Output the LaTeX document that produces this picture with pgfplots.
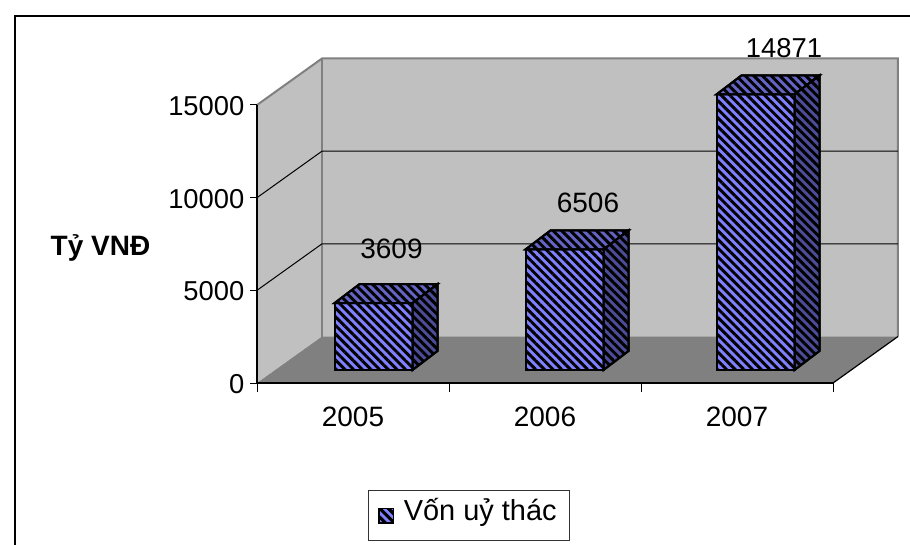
\documentclass[border=0pt]{standalone}
\usepackage{fontspec}
\setmainfont{Liberation Sans}
\usepackage{pgfplots}
\pgfplotsset{compat=1.18}
\usepackage{pgfplotstable}
\usetikzlibrary{patterns.meta}

\definecolor{wallgrey}{HTML}{C0C0C0}
\definecolor{floorgrey}{HTML}{808080}
\definecolor{frontblue}{HTML}{8080FF}
\definecolor{topblue}{HTML}{6464C4}
\definecolor{sideblue}{HTML}{4C4C98}

\tikzset{
  stripes/.style={postaction={pattern={Lines[angle=-45,distance=4.6pt,line width=2.2pt]},pattern color=black}},
  boxface/.style={draw=black,line width=1.5pt,line join=miter,stripes}
}

% Capital entrusted per year, billion VND
\pgfplotstableread{
x v
0 3609
1 6506
2 14871
}\capital

\begin{document}
\begin{tikzpicture}
\useasboundingbox (0,0) rectangle (682.5pt,-408.75pt);
\draw[black,line width=2.2pt] (11.25pt,-408.75pt)--(11.25pt,-12pt)--(682.5pt,-12pt);

% Chart box: walls, floor, gridlines and the axes
\begin{axis}[
  at={(192.75pt,-287.25pt)},anchor=south west,
  scale only axis,width=432pt,height=208.5pt,
  xmin=-0.5,xmax=2.5,ymin=0,ymax=15000,
  clip=false,axis on top=true,
  axis x line*=bottom,axis y line*=left,
  axis line style={black,line width=0.9pt,-},
  xtick={0,1,2},xticklabels={2005,2006,2007},
  minor xtick={-0.5,0.5,1.5,2.5},
  ytick={0,5000,10000,15000},
  tick align=outside,
  major tick length=5.25pt,
  minor tick length=6.75pt,
  y tick style={black,line width=0.75pt},
  major x tick style={draw=none},
  minor x tick style={black,line width=0.75pt},
  y tick label style={font=\fontsize{20.5}{25}\selectfont,xshift=-0.75pt,yshift=-0.8pt},
  x tick label style={font=\fontsize{21}{25}\selectfont,yshift=-9.5pt},
  /pgf/number format/assume math mode=true,
  /pgf/number format/1000 sep={},
  scaled y ticks=false,
  ylabel={Tỷ VNĐ},
  every axis y label/.style={at={(axis description cs:-0.2717,0.4856)},anchor=center,font=\fontsize{21}{25}\selectfont\bfseries},
]
\addplot[fill=wallgrey,draw=none] coordinates {(-0.5,0)(-0.5,15000)(-0.1615,17509)(-0.1615,2509)} --cycle;
\addplot[fill=wallgrey,draw=none] coordinates {(-0.1615,2509)(-0.1615,17509)(2.8385,17509)(2.8385,2509)} --cycle;
\addplot[fill=floorgrey,draw=none] coordinates {(-0.5,0)(2.5,0)(2.8385,2509)(-0.1615,2509)} --cycle;
\addplot[floorgrey,line width=1.5pt] coordinates {(-0.5,15000)(-0.1615,17509)(2.8385,17509)(2.8385,2509)};
\addplot[floorgrey,line width=1.5pt] coordinates {(-0.1615,17509)(-0.1615,2509)};
\addplot[black,line width=0.75pt] coordinates {(-0.5,5000)(-0.1615,7509)(2.8385,7509)};
\addplot[black,line width=0.75pt] coordinates {(-0.5,10000)(-0.1615,12509)(2.8385,12509)};
\addplot[black,line width=0.9pt] coordinates {(2.5,0)(2.8385,2509)};
\end{axis}

% Boxes standing on the floor, with their value labels and the legend
\begin{axis}[
  at={(208.5pt,-277.5pt)},anchor=south west,
  scale only axis,width=429.75pt,height=208.5pt,
  xmin=-0.5,xmax=2.5,ymin=0,ymax=15000,
  clip=false,hide axis,
  legend style={
    at={(axis description cs:0.157,-0.4317)},anchor=north west,
    draw=black!80,line width=0.75pt,fill=white,
    font=\fontsize{21.7}{25}\selectfont,
    inner xsep=7.5pt,inner ysep=8.6pt,
    legend cell align=left,
  },
  legend image code/.code={
    \path[fill=frontblue,draw=black,line width=1pt,stripes] (0pt,-5.9pt) rectangle (11pt,5.1pt);
  },
]
\addplot[ybar,bar width=58.5pt,bar shift=0pt,fill=frontblue,boxface] table[x=x,y=v] {\capital};
\addlegendentry{\hspace*{5pt}\raisebox{2.25pt}[\dimexpr\height-2.25pt\relax][\dimexpr\depth+2.25pt\relax]{Vốn uỷ thác}}
\addplot[forget plot,fill=topblue,boxface] coordinates {(-0.2042,3609)(0.2042,3609)(0.3351,4634)(-0.0733,4634)} --cycle;
\addplot[forget plot,fill=sideblue,boxface] coordinates {(0.2042,0)(0.2042,3609)(0.3351,4634)(0.3351,1025)} --cycle;
\addplot[forget plot,fill=topblue,boxface] coordinates {(0.7958,6506)(1.2042,6506)(1.3351,7531)(0.9267,7531)} --cycle;
\addplot[forget plot,fill=sideblue,boxface] coordinates {(1.2042,0)(1.2042,6506)(1.3351,7531)(1.3351,1025)} --cycle;
\addplot[forget plot,fill=topblue,boxface] coordinates {(1.7958,14871)(2.2042,14871)(2.3351,15896)(1.9267,15896)} --cycle;
\addplot[forget plot,fill=sideblue,boxface] coordinates {(2.2042,0)(2.2042,14871)(2.3351,15896)(2.3351,1025)} --cycle;
\node[font=\fontsize{21}{25}\selectfont] at (axis cs:0.094,6529) {3609};
\node[font=\fontsize{21}{25}\selectfont] at (axis cs:1.123,9011) {6506};
\node[font=\fontsize{20.5}{25}\selectfont] at (axis cs:2.149,17375) {14871};
\end{axis}
\end{tikzpicture}
\end{document}
